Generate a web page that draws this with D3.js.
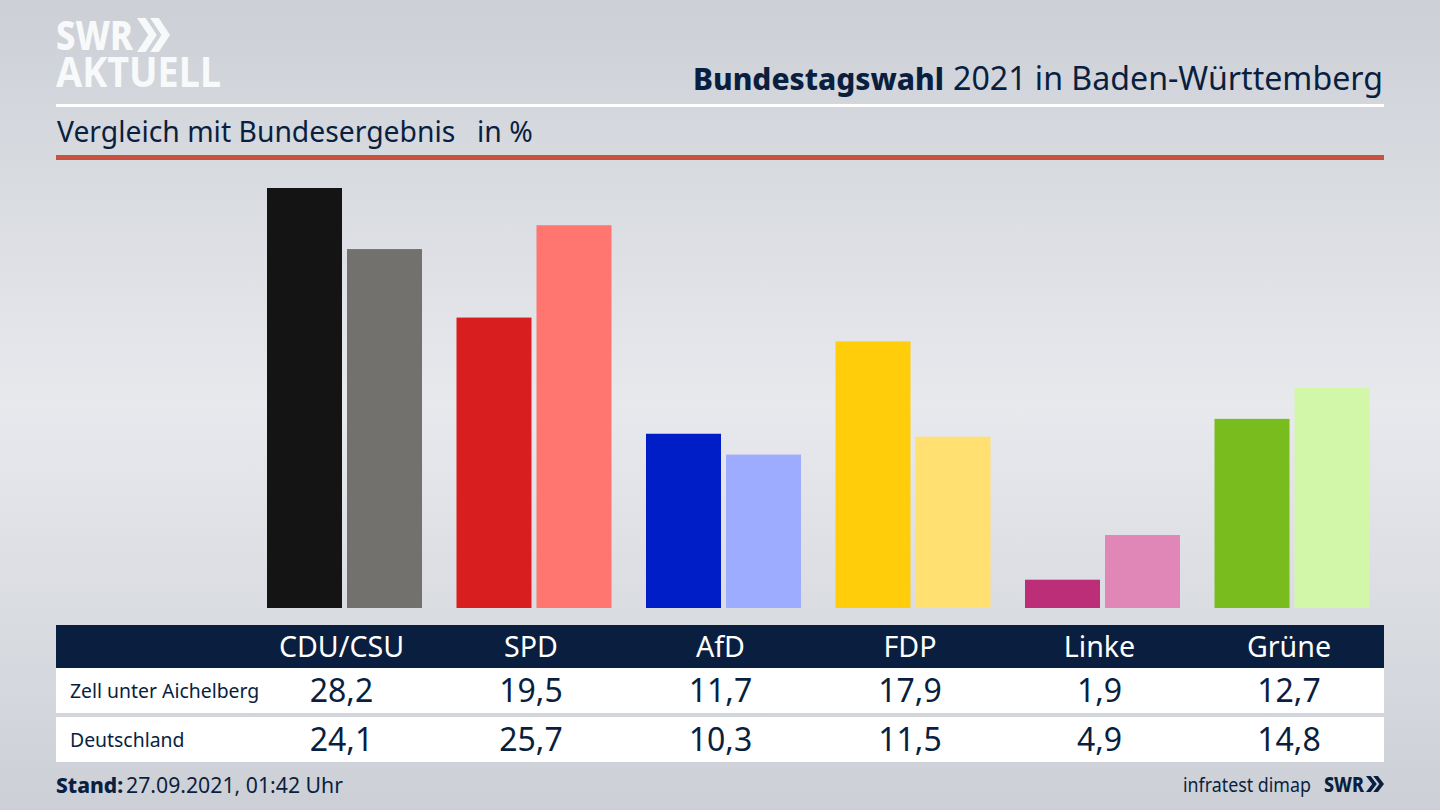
<!DOCTYPE html>
<html lang="de"><head><meta charset="utf-8">
<script src="https://d3js.org/d3.v7.min.js"></script>
<style>html,body{margin:0;padding:0;background:#d5d7dc}svg{display:block}text{font-family:"Noto Sans","Open Sans",sans-serif}</style>
</head><body><svg id="c" width="1440" height="810"></svg>
<script>
const categories=["CDU/CSU","SPD","AfD","FDP","Linke","Grüne"];
const rowNames=["Zell unter Aichelberg","Deutschland"];
const zell=[28.2,19.5,11.7,17.9,1.9,12.7];
const deutschland=[24.1,25.7,10.3,11.5,4.9,14.8];
const zellColors=["#141414","#d81e1e","#001ec8","#ffcd0a","#bc2f78","#78bc1e"];
const deutschlandColors=["#72716d","#ff7570","#9dacff","#ffe070","#e087b8","#d3f7a8"];
const titleBold="Bundestagswahl";
const titleRest="2021 in Baden-Württemberg";
const subtitle="Vergleich mit Bundesergebnis";
const unit="in %";

const navy="#0a1f3f";
const logoWhite="#f8f9fa";
const svg=d3.select("#c");
const defs=svg.append("defs");
const g=defs.append("linearGradient").attr("id","bg").attr("x1",0).attr("x2",0).attr("y1",0).attr("y2",1);
[[0,"#ccd0d6"],[0.5,"#e8e9ed"],[1,"#ccd0d6"]].forEach(s=>g.append("stop").attr("offset",s[0]).attr("stop-color",s[1]));
svg.append("rect").attr("width",1440).attr("height",810).attr("fill","url(#bg)");

const x=d3.scalePoint().domain(categories).range([342,1289.5]);
const y=d3.scaleLinear().domain([0,28.2]).range([608,188]);
const fmt=v=>d3.format(".1f")(v).replace(".",",");

// header
const text=(t,px,py,size,fill,anchor,weight)=>svg.append("text").attr("x",px).attr("y",py).attr("font-size",size).attr("fill",fill).attr("text-anchor",anchor||"start").attr("font-weight",weight||400).text(t);
text("SWR",56,50,41,logoWhite,"start",800).attr("textLength",77).attr("lengthAdjust","spacingAndGlyphs");
const chev=(ox,oy,w,h,fill)=>{[0,1].forEach(i=>svg.append("path").attr("fill",fill)
  .attr("d",`M${ox+i*w*.4} ${oy}h${w*.26}l${w*.34} ${h/2}l${-w*.34} ${h/2}h${-w*.26}l${w*.34} ${-h/2}z`));};
chev(137,18,33,34,logoWhite);
text("AKTUELL",56,87,41,logoWhite,"start",700).attr("textLength",165).attr("lengthAdjust","spacingAndGlyphs");

text(titleBold,693,90,30,navy,"start",800).attr("textLength",251).attr("lengthAdjust","spacingAndGlyphs");
text(titleRest,1383,90,32,navy,"end").attr("textLength",430).attr("lengthAdjust","spacingAndGlyphs");
svg.append("rect").attr("x",56).attr("y",104).attr("width",1328).attr("height",3).attr("fill","#fff");
text(subtitle,57,142,28.3,navy);
text(unit,477,142,28.3,navy);
svg.append("rect").attr("x",56).attr("y",155).attr("width",1328).attr("height",5).attr("fill","#c8523f");

// bars
const barW=75, gap=5;
svg.append("g").selectAll("rect").data(categories).join("rect")
  .attr("x",d=>x(d)-barW).attr("width",barW)
  .attr("y",(d,i)=>y(zell[i])).attr("height",(d,i)=>y(0)-y(zell[i]))
  .attr("fill",(d,i)=>zellColors[i]);
svg.append("g").selectAll("rect").data(categories).join("rect")
  .attr("x",d=>x(d)+gap).attr("width",barW)
  .attr("y",(d,i)=>y(deutschland[i])).attr("height",(d,i)=>y(0)-y(deutschland[i]))
  .attr("fill",(d,i)=>deutschlandColors[i]);

// table
svg.append("rect").attr("x",56).attr("y",625).attr("width",1328).attr("height",43).attr("fill",navy);
svg.append("rect").attr("x",56).attr("y",668).attr("width",1328).attr("height",45).attr("fill","#fff");
svg.append("rect").attr("x",56).attr("y",717).attr("width",1328).attr("height",45).attr("fill","#fff");
svg.append("g").selectAll("text").data(categories).join("text")
  .attr("x",d=>x(d)-0.5).attr("y",657).attr("text-anchor","middle").attr("font-size",28.6).attr("fill","#fff").text(d=>d);
[[zell,702],[deutschland,751]].forEach(([vals,py],r)=>{
  text(rowNames[r],70,py-4,19.4,navy);
  svg.append("g").selectAll("text").data(categories).join("text")
    .attr("x",d=>x(d)-0.5).attr("y",py).attr("text-anchor","middle").attr("font-size",32).attr("fill",navy)
    .text((d,i)=>fmt(vals[i]));
});

// footer
text("Stand:",56,793,21,navy,"start",800);
text("27.09.2021, 01:42 Uhr",126,793,21,navy).attr("textLength",217).attr("lengthAdjust","spacingAndGlyphs");
text("infratest dimap",1311,792,20,navy,"end").attr("textLength",128).attr("lengthAdjust","spacingAndGlyphs");
text("SWR",1324,792,21,navy,"start",800).attr("textLength",40).attr("lengthAdjust","spacingAndGlyphs");
chev(1366,776,18,16,navy);
</script></body></html>
